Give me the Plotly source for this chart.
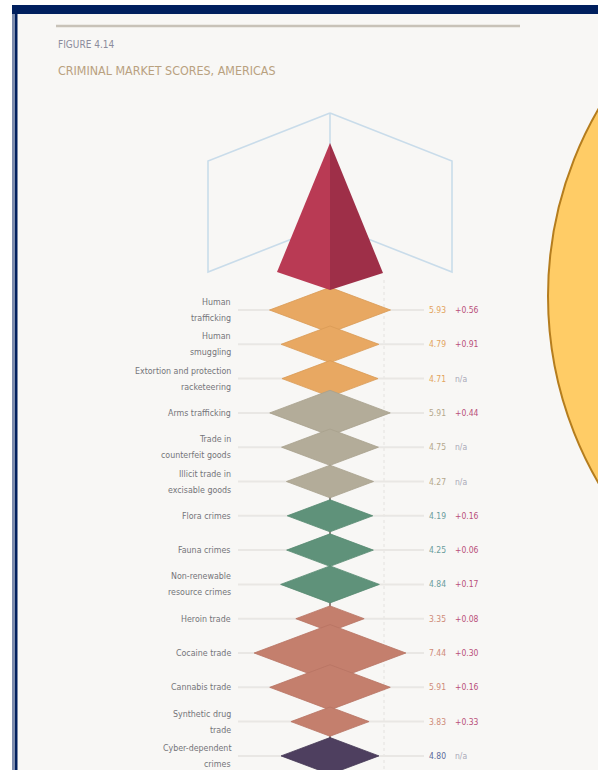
import plotly.graph_objects as go

# ---------------- data ----------------
markets = [
    "Human<br>trafficking",
    "Human<br>smuggling",
    "Extortion and protection<br>racketeering",
    "Arms trafficking",
    "Trade in<br>counterfeit goods",
    "Illicit trade in<br>excisable goods",
    "Flora crimes",
    "Fauna crimes",
    "Non-renewable<br>resource crimes",
    "Heroin trade",
    "Cocaine trade",
    "Cannabis trade",
    "Synthetic drug<br>trade",
    "Cyber-dependent<br>crimes",
]
scores = [5.93, 4.79, 4.71, 5.91, 4.75, 4.27, 4.19, 4.25, 4.84, 3.35, 7.44, 5.91, 3.83, 4.80]
changes = ["+0.56", "+0.91", "n/a", "+0.44", "n/a", "n/a", "+0.16", "+0.06", "+0.17",
           "+0.08", "+0.30", "+0.16", "+0.33", "n/a"]
groups = ["people", "people", "people", "trade", "trade", "trade", "env", "env", "env",
          "drugs", "drugs", "drugs", "drugs", "cyber"]

group_fill = {"people": "#e8a862", "trade": "#b3ac99", "env": "#5f927a",
              "drugs": "#c47f6d", "cyber": "#4e3f5f"}
group_edge = {"people": "#d99a55", "trade": "#a8a18d", "env": "#578a71",
              "drugs": "#b87463", "cyber": "#453856"}
group_text = {"people": "#e3a45e", "trade": "#b5a88c", "env": "#6a9c9c",
              "drugs": "#cf8b78", "cyber": "#5a6a9a"}

W, H = 598, 770
CX = 330.0          # pixel x of the score axis zero (centre of diamonds)
KX = 10.2           # pixels per score unit
ROW0, ROWH = 310.0, 34.3
ASPECT = 0.375      # diamond half-height / half-width (in pixels)
FONT = "DejaVu Sans Condensed, Liberation Sans Narrow, Arial Narrow, sans-serif"


def px(x):
    return x / W


def py(y):
    return 1 - y / H


def sx(pxl):
    return (pxl - CX) / KX


fig = go.Figure()

# --- background panel & frame (decoration) ---
shapes = []
shapes.append(dict(type="rect", xref="paper", yref="paper", x0=px(17), x1=px(W + 5),
                   y0=py(H + 5), y1=py(14), fillcolor="#f8f7f5", line_width=0, layer="below"))
shapes.append(dict(type="rect", xref="paper", yref="paper", x0=px(12), x1=px(W + 5),
                   y0=py(14), y1=py(5), fillcolor="#001f5e", line_width=0, layer="below"))
shapes.append(dict(type="rect", xref="paper", yref="paper", x0=px(12), x1=px(15),
                   y0=py(H + 5), y1=py(14), fillcolor="#7d8cae", line_width=0, layer="below"))
shapes.append(dict(type="rect", xref="paper", yref="paper", x0=px(15), x1=px(17.5),
                   y0=py(H + 5), y1=py(5), fillcolor="#001f5e", line_width=0, layer="below"))
shapes.append(dict(type="line", xref="paper", yref="paper", x0=px(56), x1=px(520),
                   y0=py(26), y1=py(26), line=dict(color="#c8c2b8", width=2.5), layer="below"))

# big yellow circle on the right
shapes.append(dict(type="circle", xref="paper", yref="paper", x0=px(548), x1=px(1290),
                   y0=py(667), y1=py(-75), fillcolor="#ffcc66",
                   line=dict(color="#b57d1e", width=2)))

# wireframe behind the pyramid
wire = "#c9dcea"
for side in (-1, 1):
    xo = CX + side * 122
    path = (f"M {px(CX)},{py(113)} L {px(xo)},{py(161)} L {px(xo)},{py(272)} "
            f"L {px(CX)},{py(224)}")
    shapes.append(dict(type="path", xref="paper", yref="paper", path=path,
                       line=dict(color=wire, width=1.6), layer="below"))
shapes.append(dict(type="line", xref="paper", yref="paper", x0=px(CX), x1=px(CX),
                   y0=py(113), y1=py(150), line=dict(color=wire, width=1.6), layer="below"))

# faint dotted reference line
shapes.append(dict(type="line", xref="paper", yref="paper", x0=px(384), x1=px(384),
                   y0=py(280), y1=py(H), line=dict(color="#e4e2df", width=1, dash="dot"),
                   layer="below"))

# row guide lines
rows = list(range(len(markets)))
for i in rows:
    shapes.append(dict(type="line", xref="x", yref="y", x0=sx(238), x1=sx(424),
                       y0=i, y1=i, line=dict(color="#e9e7e4", width=2), layer="below"))

# center spine
shapes.append(dict(type="line", xref="x", yref="y", x0=0, x1=0, y0=-0.6,
                   y1=len(markets) - 0.2, line=dict(color="#6f5f5a", width=1.5), layer="below"))

# pyramid on top
shapes.append(dict(type="path", xref="paper", yref="paper",
                   path=f"M {px(CX)},{py(143)} L {px(277)},{py(272)} L {px(CX)},{py(290)} Z",
                   fillcolor="#b93a54", line_width=0))
shapes.append(dict(type="path", xref="paper", yref="paper",
                   path=f"M {px(CX)},{py(143)} L {px(383)},{py(273)} L {px(CX)},{py(290)} Z",
                   fillcolor="#9e2f48", line_width=0))

# --- diamonds from data ---
for i, (v, g) in enumerate(zip(scores, groups)):
    hw = v
    hh = ASPECT * KX * v / ROWH
    xs = [-hw, 0, hw, 0, -hw]
    ys = [i, i - hh, i, i + hh, i]
    fig.add_trace(go.Scatter(x=xs, y=ys, mode="lines", fill="toself",
                             fillcolor=group_fill[g],
                             line=dict(color=group_edge[g], width=0.8),
                             hoverinfo="skip", showlegend=False))

annotations = []
LINE_OFF = 8.0 / ROWH
for i, (lab, v, c, g) in enumerate(zip(markets, scores, changes, groups)):
    parts = lab.split("<br>")
    if len(parts) == 1:
        offs = [0.0]
    else:
        offs = [-LINE_OFF, LINE_OFF]
    for part, o in zip(parts, offs):
        annotations.append(dict(x=sx(233), y=i + o, xref="x", yref="y", text=part,
                                showarrow=False, xanchor="right", yanchor="middle",
                                align="right",
                                font=dict(family=FONT, size=8.8, color="#747479")))
    annotations.append(dict(x=sx(427), y=i, xref="x", yref="y", text=f"{v:.2f}",
                            showarrow=False, xanchor="left", yanchor="middle",
                            font=dict(family=FONT, size=8.5, color=group_text[g])))
    annotations.append(dict(x=sx(453), y=i, xref="x", yref="y", text=c,
                            showarrow=False, xanchor="left", yanchor="middle",
                            font=dict(family=FONT, size=8.5,
                                      color="#a9a9b8" if c == "n/a" else "#b9507a")))

annotations.append(dict(x=px(56), y=py(45), xref="paper", yref="paper", text="FIGURE 4.14",
                        showarrow=False, xanchor="left", yanchor="middle",
                        font=dict(family=FONT, size=10, color="#8c8c9c")))
annotations.append(dict(x=px(56), y=py(70), xref="paper", yref="paper",
                        text="CRIMINAL MARKET SCORES, AMERICAS",
                        showarrow=False, xanchor="left", yanchor="middle",
                        font=dict(family=FONT, size=12.4, color="#b9a17f")))

fig.update_layout(
    width=W, height=H,
    margin=dict(l=0, r=0, t=0, b=0),
    paper_bgcolor="#ffffff",
    plot_bgcolor="rgba(0,0,0,0)",
    shapes=shapes,
    annotations=annotations,
    xaxis=dict(range=[sx(0), sx(W)], visible=False, fixedrange=True),
    yaxis=dict(range=[(H - ROW0) / ROWH, -ROW0 / ROWH], visible=False, fixedrange=True),
    showlegend=False,
)

fig.write_html("out.html", config={"displayModeBar": False},
               post_script="document.body.style.margin='0';document.body.style.padding='0';")
